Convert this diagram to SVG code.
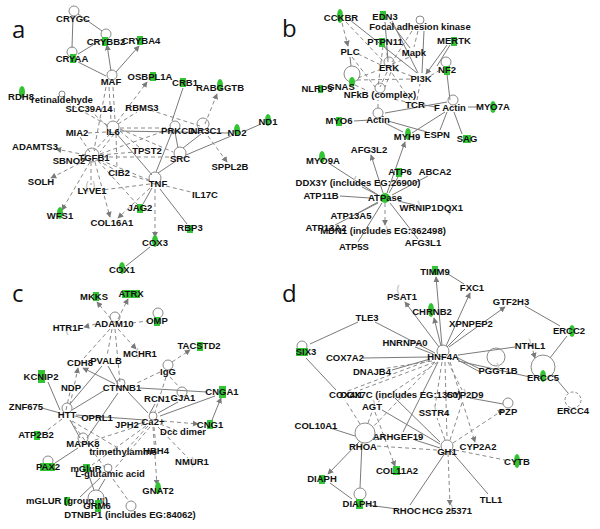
<svg xmlns="http://www.w3.org/2000/svg" width="600" height="529" viewBox="0 0 600 529">
<style>
text{font-family:"Liberation Sans",Arial,sans-serif;font-weight:bold;font-size:9.5px;fill:#111;text-anchor:middle}
.lab{font-family:"Open Sans","Liberation Sans",sans-serif;font-weight:normal;font-size:24px;text-anchor:start}
.s{stroke:#7a7a7a;stroke-width:1;fill:none}
.d{stroke:#8a8a8a;stroke-width:1;fill:none;stroke-dasharray:4 3}
.ar{marker-end:url(#ah)}
.c{fill:none;stroke:#8a8a8a;stroke-width:1}
.cd{fill:none;stroke:#8a8a8a;stroke-width:1;stroke-dasharray:3 2}
.g{fill:#33c433}
.lg{fill:none;stroke:#cfcfcf;stroke-width:1.5}
</style>
<defs>
<marker id="ah" viewBox="0 0 8 8" refX="7" refY="4" markerWidth="6" markerHeight="6" orient="auto"><path d="M0 0L8 4L0 8z" fill="#7a7a7a"/></marker>
</defs>
<rect width="600" height="529" fill="#fff"/>
<text class="lab" x="12" y="38">a</text>
<text class="lab" x="282" y="37">b</text>
<text class="lab" x="12" y="302">c</text>
<text class="lab" x="282" y="302">d</text>

<g id="connectors">
<g id="edges-a">
<path class="s" d="M73 16L72 48M78 14L102 31M101 40L78 54M78 62L106 76"/>
<path class="s ar" d="M111 71L107 45"/>
<path class="s ar" d="M116 72L139 46"/>
<path class="d" d="M109 87L111 121M113 87L115 121M106 87L94 150"/>
<path class="d ar" d="M117 122L147 82"/>
<path class="d" d="M107 125L70 104M108 127L93 113M106 132L88 133M118 124L137 112M110 134L94 151M114 134L100 152M120 129L173 152M120 131L140 148M116 134L117 169M120 128L170 128"/>
<path class="s" d="M120 131L229 133M116 133L152 175M183 88L172 121M245 131L261 124M178 148L175 132M183 148L201 134M186 155L231 136M158 173L176 161M156 172L172 132M150 247L126 266M152 188L143 204M160 189L187 224"/>
<path class="d ar" d="M205 124L217 94"/>
<path class="d" d="M150 110L200 126"/>
<path class="d ar" d="M208 136L227 162"/>
<path class="d" d="M100 155L135 152M102 157L172 157M100 160L149 180M86 158L78 160M91 162L91 185M97 160L115 170M98 161L137 204M90 152L80 137M100 154L170 129"/>
<path class="d ar" d="M86 155L56 149"/>
<path class="d ar" d="M86 160L51 178"/>
<path class="d ar" d="M90 162L62 210"/>
<path class="d ar" d="M95 162L110 217"/>
<path class="d" d="M150 184L102 190M150 181L128 175M166 186L195 193"/>
<path class="d ar" d="M150 188L118 218"/>
<path class="d ar" d="M155 189L155 237"/>
</g>
<g id="edges-b">
<path class="d ar" d="M342 23L348 46"/>
<path class="d" d="M346 22L384 62M412 31L392 62M418 31L414 47M386 46L388 62M383 46L378 87M358 54L383 66M352 57L375 87M387 72L380 87M391 72L385 87M395 70L414 77M392 64L410 57M358 78L384 68M357 80L414 79M355 85L368 91M440 70L430 76M410 100L392 73M412 103L393 99M378 108L378 100M417 100L420 84"/>
<path class="s" d="M350 20L417 73M385 22L388 60M390 22L410 48M392 21L418 73M424 31L422 73M450 45L437 66M447 74L450 100M350 57L351 66M370 120L354 121M385 113L447 102M385 123L403 132M388 121L427 132M468 107L478 107M445 112L412 133M447 112L440 130M454 112L462 134M424 105L436 107"/>
<path class="s ar" d="M447 45L426 74"/>
<path class="s ar" d="M387 193L405 142"/>
<path class="s ar" d="M383 193L371 155"/>
<path class="s" d="M378 195L330 164M389 193L398 177M392 195L428 176M378 195L362 187M370 198L340 196M398 201L415 205M378 202L358 213M378 203L335 225M390 203L418 239M382 203L358 242"/>
<path class="d ar" d="M385 203L385 225"/>
</g>
<g id="edges-c">
<path class="d ar" d="M111 319L97 302"/>
<path class="d ar" d="M118 319L128 299"/>
<path class="d" d="M132 323L147 321M112 329L107 356M115 329L120 383M110 329L84 358"/>
<path class="d ar" d="M96 324L84 327"/>
<path class="d ar" d="M118 329L136 349"/>
<path class="d ar" d="M172 362L190 350"/>
<path class="d" d="M166 377L155 412M170 377L180 388M160 372L135 384"/>
<path class="s" d="M140 388L207 392M105 390L72 410M128 392L148 413M118 384L108 366M118 393L87 438M60 413L42 408M76 415L145 420M75 416L82 418M70 420L80 438M60 410L48 382M70 404L102 366M78 448L55 463M160 416L215 396M145 422L138 424M150 413L155 404M158 413L178 402"/>
<path class="s ar" d="M115 384L83 368"/>
<path class="d" d="M66 410L70 392M62 419L45 432M70 420L105 468M72 421L118 448"/>
<path class="d ar" d="M70 405L78 368"/>
<path class="d ar" d="M163 421L198 424"/>
<path class="d" d="M160 424L175 430M158 427L188 458M154 427L156 446M148 426L128 448M146 426L92 465M150 427L115 468M145 424L92 441"/>
<path class="d ar" d="M153 427L157 485"/>
<path class="s ar" d="M212 420L221 398"/>
<path class="s" d="M100 478L80 497M105 479L98 491M88 473L94 490"/>
<path class="d" d="M113 479L128 500"/>
</g>
<g id="edges-d">
<path class="s ar" d="M442 346L436 277"/>
<path class="s ar" d="M446 346L470 293"/>
<path class="s ar" d="M439 347L405 302"/>
<path class="s ar" d="M441 346L434 318"/>
<path class="s ar" d="M449 347L505 307"/>
<path class="s" d="M447 347L465 329M435 353L375 322M433 354L415 347M428 357L363 358M430 359L392 370M458 355L515 347M458 358L480 369M458 360L480 372M458 361L530 377M448 274L464 284M525 306L560 326M567 336L550 358M552 374L568 393M358 322L310 344M306 358L336 390M438 362L403 432"/>
<path class="d" d="M435 362L360 390M438 362L378 402M430 360L345 392M442 362L435 407M445 362L447 439M448 362L462 390M435 362L372 428M432 361L375 370"/>
<path class="d ar" d="M450 362L475 442"/>
<path class="d ar" d="M531 344L535 358"/>
<path class="d" d="M445 440L437 418M450 440L463 400M455 450L505 460M437 450L376 446"/>
<path class="d ar" d="M453 443L503 410"/>
<path class="d ar" d="M448 453L450 505"/>
<path class="s" d="M451 451L488 494M445 453L410 505M440 448L415 440M440 444L382 410M440 442L395 398M470 398L503 404M355 436L330 428M362 443L360 488M375 440L385 437M330 483L352 499M368 505L397 509"/>
<path class="s ar" d="M360 441L328 474"/>
<path class="d" d="M368 423L372 412M360 424L345 400"/>
<path class="d ar" d="M375 412L395 466"/>
</g>
</g>

<g id="panel-a">
<g id="a-CRYGC"><circle class="c" cx="74" cy="11" r="5"/><text x="73" y="22">CRYGC</text></g>
<g id="a-CRYBB2"><circle class="c" cx="106" cy="34" r="5"/><rect class="g" x="102" y="37" width="6" height="9"/><text x="106" y="45">CRYBB2</text></g>
<g id="a-CRYBA4"><rect class="g" x="137" y="36" width="6" height="9"/><text x="141" y="44">CRYBA4</text></g>
<g id="a-CRYAA"><circle class="c" cx="72" cy="52" r="5"/><rect class="g" x="70" y="54" width="6" height="9"/><text x="72" y="62">CRYAA</text></g>
<g id="a-MAF"><circle class="c" cx="112" cy="75" r="5"/><text x="111" y="85">MAF</text></g>
<g id="a-OSBPL1A"><rect class="g" x="150" y="72" width="6" height="9"/><text x="150" y="80">OSBPL1A</text></g>
<g id="a-CRB1"><rect class="g" x="180" y="78" width="6" height="9"/><text x="185" y="86">CRB1</text></g>
<g id="a-RABGGTB"><ellipse class="g" cx="220" cy="85" rx="3" ry="6"/><text x="220" y="91">RABGGTB</text></g>
<g id="a-RDH8"><ellipse class="g" cx="22" cy="92" rx="3" ry="6"/><text x="21" y="100">RDH8</text></g>
<g id="a-retinaldehyde"><circle class="c" cx="62" cy="94" r="3"/><text x="62" y="103">retinaldehyde</text></g>
<g id="a-SLC39A14"><text x="89" y="112">SLC39A14</text></g>
<g id="a-RBMS3"><text x="142" y="111">RBMS3</text></g>
<g id="a-IL6"><circle class="c" cx="113" cy="127" r="6"/><text x="113" y="135">IL6</text></g>
<g id="a-MIA2"><text x="77" y="136">MIA2</text></g>
<g id="a-ND1"><ellipse class="g" cx="268" cy="120" rx="3" ry="6"/><text x="268" y="125">ND1</text></g>
<g id="a-ND2"><ellipse class="g" cx="237" cy="130" rx="3" ry="6"/><text x="237" y="136">ND2</text></g>
<g id="a-PRKCD"><circle class="c" cx="175" cy="126" r="5"/><text x="178" y="134">PRKCD</text></g>
<g id="a-NR3C1"><circle class="c" cx="203" cy="124" r="6"/><text x="206" y="134">NR3C1</text></g>
<g id="a-ADAMTS3"><text x="35" y="150">ADAMTS3</text></g>
<g id="a-SBNO2"><text x="69" y="164">SBNO2</text></g>
<g id="a-TGFB1"><circle class="c" cx="92" cy="155" r="7"/><text x="94" y="161">TGFB1</text></g>
<g id="a-TPST2"><text x="147" y="154">TPST2</text></g>
<g id="a-SRC"><circle class="c" cx="180" cy="153" r="6"/><text x="180" y="162">SRC</text></g>
<g id="a-SOLH"><text x="41" y="185">SOLH</text></g>
<g id="a-CIB2"><text x="119" y="176">CIB2</text></g>
<g id="a-TNF"><circle class="c" cx="155" cy="178" r="6"/><text x="158" y="187">TNF</text></g>
<g id="a-SPPL2B"><text x="230" y="170">SPPL2B</text></g>
<g id="a-LYVE1"><path class="lg" d="M88 181q-3 6 0 11M93 181q3 6 0 11"/><text x="92" y="194">LYVE1</text></g>
<g id="a-IL17C"><text x="205" y="198">IL17C</text></g>
<g id="a-JAG2"><rect class="g" x="137" y="204" width="6" height="9"/><text x="140" y="211">JAG2</text></g>
<g id="a-WFS1"><ellipse class="g" cx="60" cy="213" rx="3" ry="6"/><text x="60" y="219">WFS1</text></g>
<g id="a-COL16A1"><text x="112" y="226">COL16A1</text></g>
<g id="a-RBP3"><rect class="g" x="187" y="225" width="6" height="8"/><text x="190" y="231">RBP3</text></g>
<g id="a-COX3"><ellipse class="g" cx="155" cy="241" rx="3" ry="6"/><text x="155" y="246">COX3</text></g>
<g id="a-COX1"><ellipse class="g" cx="122" cy="268" rx="3" ry="6"/><text x="122" y="273">COX1</text></g>
</g>

<g id="panel-b">
<g id="b-CCKBR"><ellipse class="g" cx="340" cy="16" rx="3" ry="7"/><text x="341" y="21">CCKBR</text></g>
<g id="b-EDN3"><rect class="g" x="380" y="11" width="6" height="9"/><text x="385" y="20">EDN3</text></g>
<g id="b-FAK"><circle class="c" cx="420" cy="20" r="4"/><text x="420" y="30">Focal adhesion kinase</text></g>
<g id="b-PTPN11"><rect class="g" x="379" y="38" width="6" height="9"/><text x="385" y="45">PTPN11</text></g>
<g id="b-MERTK"><rect class="g" x="451" y="37" width="6" height="9"/><text x="454" y="44">MERTK</text></g>
<g id="b-PLC"><text x="350" y="55">PLC</text></g>
<g id="b-Mapk"><text x="414" y="56">Mapk</text></g>
<g id="b-ERK"><circle class="c" cx="389" cy="62" r="5"/><text x="389" y="71">ERK</text></g>
<g id="b-NF2"><circle class="c" cx="446" cy="62" r="5"/><rect class="g" x="444" y="66" width="6" height="9"/><text x="447" y="73">NF2</text></g>
<g id="b-PI3K"><text x="421" y="82">PI3K</text></g>
<g id="b-NLRP3"><rect class="g" x="318" y="85" width="5" height="8"/><text x="317" y="92">NLRP3</text></g>
<g id="b-GNAS"><circle class="c" cx="352" cy="74" r="8"/><ellipse class="g" cx="352" cy="82" rx="3" ry="5"/><text x="341" y="90">GNAS</text></g>
<g id="b-NFkB"><circle class="c" cx="380" cy="88" r="5"/><text x="380" y="98">NFkB (complex)</text></g>
<g id="b-TCR"><text x="415" y="108">TCR</text></g>
<g id="b-FActin"><circle class="c" cx="453" cy="100" r="5"/><text x="450" y="111">F Actin</text></g>
<g id="b-MYO7A"><ellipse class="g" cx="493" cy="107" rx="3" ry="6"/><text x="493" y="110">MYO7A</text></g>
<g id="b-MYO6"><rect class="g" x="336" y="117" width="6" height="9"/><text x="339" y="124">MYO6</text></g>
<g id="b-Actin"><circle class="c" cx="378" cy="113" r="5"/><text x="378" y="123">Actin</text></g>
<g id="b-MYH9"><ellipse class="g" cx="408" cy="134" rx="3" ry="6"/><text x="407" y="140">MYH9</text></g>
<g id="b-ESPN"><text x="437" y="138">ESPN</text></g>
<g id="b-SAG"><rect class="g" x="463" y="135" width="8" height="8"/><text x="467" y="142">SAG</text></g>
<g id="b-AFG3L2"><text x="369" y="153">AFG3L2</text></g>
<g id="b-MYO9A"><ellipse class="g" cx="322" cy="157" rx="3" ry="6"/><text x="323" y="164">MYO9A</text></g>
<g id="b-ATP6"><rect class="g" x="396" y="168" width="6" height="9"/><text x="400" y="175">ATP6</text></g>
<g id="b-ABCA2"><text x="435" y="175">ABCA2</text></g>
<g id="b-DDX3Y"><path class="lg" d="M356 176q-3 5 0 9"/><text x="358" y="186">DDX3Y (includes EG:26900)</text></g>
<g id="b-ATP11B"><text x="321" y="199">ATP11B</text></g>
<g id="b-ATPase"><ellipse class="g" cx="385" cy="198" rx="5" ry="5"/><text x="385" y="201">ATPase</text></g>
<g id="b-WRNIP1"><path class="lg" d="M418 201q3 5 0 9"/><text x="418" y="211">WRNIP1</text></g>
<g id="b-DQX1"><path class="lg" d="M449 206q3 5 0 9"/><text x="450" y="211">DQX1</text></g>
<g id="b-ATP13A5"><text x="351" y="219">ATP13A5</text></g>
<g id="b-ATP13A2"><text x="326" y="231">ATP13A2</text></g>
<g id="b-MDN1"><path class="lg" d="M386 226q3 5 0 9"/><text x="383" y="234">MDN1 (includes EG:362498)</text></g>
<g id="b-AFG3L1"><text x="423" y="246">AFG3L1</text></g>
<g id="b-ATP5S"><text x="354" y="250">ATP5S</text></g>
</g>

<g id="panel-c">
<g id="c-MKKS"><rect class="g" x="93" y="292" width="6" height="9"/><text x="94" y="300">MKKS</text></g>
<g id="c-ATRX"><rect class="g" x="122" y="290" width="18" height="8"/><text x="131" y="297">ATRX</text></g>
<g id="c-ADAM10"><circle class="c" cx="115" cy="317" r="5"/><text x="114" y="327">ADAM10</text></g>
<g id="c-OMP"><circle class="c" cx="158" cy="313" r="5"/><rect class="g" x="154" y="317" width="6" height="9"/><text x="157" y="324">OMP</text></g>
<g id="c-HTR1F"><path class="lg" d="M68 325q-3 5 0 10"/><text x="68" y="331">HTR1F</text></g>
<g id="c-TACSTD2"><rect class="g" x="197" y="342" width="6" height="9"/><text x="199" y="349">TACSTD2</text></g>
<g id="c-MCHR1"><path class="lg" d="M138 348q-3 5 0 10"/><text x="140" y="357">MCHR1</text></g>
<g id="c-CDH8"><text x="80" y="366">CDH8</text></g>
<g id="c-PVALB"><text x="106" y="364">PVALB</text></g>
<g id="c-IgG"><circle class="c" cx="168" cy="365" r="5"/><text x="168" y="375">IgG</text></g>
<g id="c-KCNIP2"><rect class="g" x="38" y="370" width="7" height="13"/><text x="41" y="380">KCNIP2</text></g>
<g id="c-NDP"><text x="71" y="391">NDP</text></g>
<g id="c-CTNNB1"><circle class="c" cx="121" cy="383" r="4"/><text x="122" y="391">CTNNB1</text></g>
<g id="c-CNGA1"><rect class="g" x="219" y="386" width="7" height="12"/><text x="222" y="395">CNGA1</text></g>
<g id="c-RCN1"><text x="157" y="402">RCN1</text></g>
<g id="c-GJA1"><circle class="c" cx="182" cy="392" r="5"/><text x="183" y="401">GJA1</text></g>
<g id="c-ZNF675"><text x="26" y="410">ZNF675</text></g>
<g id="c-HTT"><circle class="c" cx="67" cy="408" r="5"/><text x="67" y="418">HTT</text></g>
<g id="c-OPRL1"><text x="97" y="421">OPRL1</text></g>
<g id="c-JPH2"><text x="127" y="428">JPH2</text></g>
<g id="c-Ca2"><circle class="c" cx="153" cy="416" r="4"/><text x="153" y="425">Ca2+</text></g>
<g id="c-CNG1"><rect class="g" x="207" y="420" width="6" height="9"/><text x="210" y="428">CNG1</text></g>
<g id="c-Dcc"><text x="183" y="435">Dcc dimer</text></g>
<g id="c-ATP2B2"><rect class="g" x="34" y="431" width="6" height="9"/><text x="36" y="438">ATP2B2</text></g>
<g id="c-MAPK8"><circle class="c" cx="83" cy="438" r="5"/><text x="83" y="447">MAPK8</text></g>
<g id="c-trimethylamine"><text x="123" y="455">trimethylamine</text></g>
<g id="c-HRH4"><text x="156" y="454">HRH4</text></g>
<g id="c-NMUR1"><path class="lg" d="M192 457q3 5 0 10"/><text x="192" y="465">NMUR1</text></g>
<g id="c-PAX2"><circle class="c" cx="48" cy="461" r="5"/><rect class="g" x="40" y="463" width="15" height="8"/><text x="48" y="470">PAX2</text></g>
<g id="c-mGluR"><rect class="g" x="83" y="464" width="7" height="8"/><text x="86" y="472">mGluR</text></g>
<g id="c-Lglu"><circle class="c" cx="108" cy="468" r="4"/><text x="110" y="477">L-glutamic acid</text></g>
<g id="c-GNAT2"><ellipse class="g" cx="158" cy="488" rx="3" ry="6"/><text x="158" y="494">GNAT2</text></g>
<g id="c-mGLURIII"><rect class="g" x="64" y="497" width="6" height="8"/><text x="67" y="504">mGLUR (group III)</text></g>
<g id="c-GRM6"><circle class="c" cx="96" cy="498" r="8"/><rect class="g" x="95" y="500" width="6" height="12"/><text x="97" y="509">GRM6</text></g>
<g id="c-DTNBP1"><circle class="c" cx="131" cy="506" r="5"/><text x="130" y="518">DTNBP1 (includes EG:84062)</text></g>
</g>

<g id="panel-d">
<g id="d-TIMM9"><rect class="g" x="432" y="266" width="6" height="9"/><text x="435" y="275">TIMM9</text></g>
<g id="d-FXC1"><text x="472" y="291">FXC1</text></g>
<g id="d-PSAT1"><path class="lg" d="M399 285q-3 5 0 9"/><text x="402" y="300">PSAT1</text></g>
<g id="d-CHRNB2"><ellipse class="g" cx="431" cy="310" rx="3" ry="7"/><text x="432" y="315">CHRNB2</text></g>
<g id="d-GTF2H3"><text x="511" y="305">GTF2H3</text></g>
<g id="d-TLE3"><text x="367" y="321">TLE3</text></g>
<g id="d-XPNPEP2"><text x="471" y="327">XPNPEP2</text></g>
<g id="d-ERCC2"><ellipse class="g" cx="572" cy="331" rx="3" ry="6"/><text x="569" y="334">ERCC2</text></g>
<g id="d-HNRNPA0"><text x="405" y="346">HNRNPA0</text></g>
<g id="d-NTHL1"><path class="lg" d="M529 339q3 4 0 8"/><text x="530" y="349">NTHL1</text></g>
<g id="d-SIX3"><circle class="c" cx="302" cy="346" r="5"/><rect class="g" x="296" y="348" width="12" height="8"/><text x="306" y="355">SIX3</text></g>
<g id="d-COX7A2"><text x="345" y="361">COX7A2</text></g>
<g id="d-HNF4A"><circle class="c" cx="443" cy="351" r="6"/><text x="443" y="360">HNF4A</text></g>
<g id="d-PGGT1B"><circle class="c" cx="496" cy="357" r="9"/><path class="lg" d="M497 363q3 5 0 10"/><text x="498" y="374">PGGT1B</text></g>
<g id="d-DNAJB4"><text x="372" y="375">DNAJB4</text></g>
<g id="d-ERCC5"><circle class="c" cx="543" cy="367" r="12"/><ellipse class="g" cx="543" cy="376" rx="3" ry="6"/><text x="543" y="381">ERCC5</text></g>
<g id="d-ERCC4"><circle class="cd" cx="573" cy="400" r="8"/><text x="573" y="414">ERCC4</text></g>
<g id="d-COX4I1"><text x="346" y="398">COX4I1</text></g>
<g id="d-COX7C"><text x="340" y="398" style="text-anchor:start">COX7C (includes EG:1350)</text></g>
<g id="d-CYP2D9"><path class="lg" d="M464 389q3 5 0 9"/><text x="465" y="398">CYP2D9</text></g>
<g id="d-AGT"><path class="lg" d="M373 400q3 4 0 8"/><text x="372" y="410">AGT</text></g>
<g id="d-SSTR4"><path class="lg" d="M434 405q3 4 0 8"/><text x="434" y="416">SSTR4</text></g>
<g id="d-PZP"><circle class="c" cx="508" cy="403" r="5"/><text x="508" y="415">PZP</text></g>
<g id="d-COL10A1"><text x="316" y="429">COL10A1</text></g>
<g id="d-ARHGEF19"><text x="398" y="440">ARHGEF19</text></g>
<g id="d-RHOA"><circle class="c" cx="365" cy="433" r="10"/><text x="363" y="450">RHOA</text></g>
<g id="d-GH1"><circle class="c" cx="447" cy="446" r="6"/><text x="447" y="455">GH1</text></g>
<g id="d-CYP2A2"><text x="478" y="450">CYP2A2</text></g>
<g id="d-CYTB"><ellipse class="g" cx="517" cy="461" rx="3" ry="7"/><text x="517" y="465">CYTB</text></g>
<g id="d-COL11A2"><rect class="g" x="393" y="466" width="7" height="9"/><text x="397" y="474">COL11A2</text></g>
<g id="d-DIAPH"><rect class="g" x="319" y="475" width="6" height="9"/><text x="322" y="482">DIAPH</text></g>
<g id="d-DIAPH1"><circle class="c" cx="360" cy="494" r="6"/><rect class="g" x="356" y="499" width="7" height="10"/><text x="360" y="507">DIAPH1</text></g>
<g id="d-TLL1"><text x="491" y="503">TLL1</text></g>
<g id="d-RHOC"><text x="407" y="514">RHOC</text></g>
<g id="d-HCG25371"><path class="lg" d="M451 504q3 5 0 10"/><text x="447" y="514">HCG 25371</text></g>
</g>
</svg>
